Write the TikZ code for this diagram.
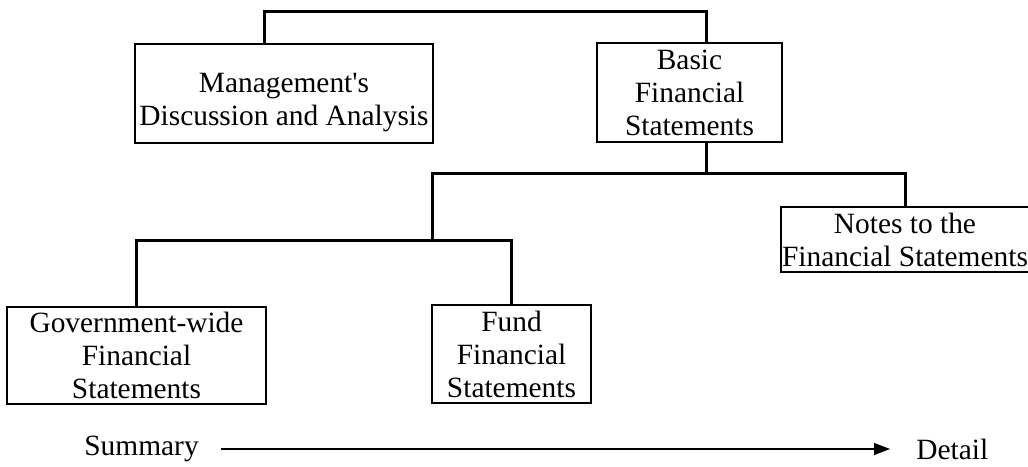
\documentclass[tikz,border=0pt]{standalone}
\usepackage{fontspec}
\setmainfont{Liberation Serif}
\usepackage{tikz}
\usetikzlibrary{positioning, arrows.meta}

\begin{document}
\begin{tikzpicture}[
            x=0.5pt, y=-0.5pt,
            % --- Styles for the nodes ---
            box/.style={
                draw, line width=1.3pt, rectangle, inner sep=0pt, align=center,
                font=\fontsize{14.7}{16.5}\selectfont
            },
            axis_label/.style={inner sep=0pt, font=\fontsize{14.7}{16.5}\selectfont},
            link/.style={line width=1.5pt}
        ]
        \useasboundingbox (0,0) rectangle (1028,466);

        % --- Top level ---
        \node[box, minimum width=149pt, minimum height=49.5pt] (mda) at (284,93.5)
            {\strut\\[-9pt]Management\textquotesingle s\\Discussion and Analysis};
        \node[box, minimum width=92.5pt, minimum height=49.5pt] (basic) at (689.5,92.5)
            {Basic\\Financial\\Statements};

        % --- Second level ---
        \node[box, minimum width=124pt, minimum height=32.5pt] (notes) at (905,239.5)
            {Notes to the\\Financial Statements};
        \node[box, minimum width=129.5pt, minimum height=48.5pt] (govt) at (136.5,355.5)
            {Government-wide\\Financial\\Statements};
        \node[box, minimum width=79.5pt, minimum height=49pt] (fund) at (511.5,354)
            {Fund\\Financial\\Statements};

        % --- Connectors ---
        \coordinate (mdatop) at (264,44);
        \coordinate (basictop) at (706,43);
        \coordinate (basicbot) at (706,142);
        \coordinate (bfsplit) at (706,173);
        \coordinate (gfsplit) at (432,240);

        \draw[link] (mdatop) -- ++(0,-33) -| (basictop);
        \draw[link] (basicbot) -- (bfsplit) -| (notes.north);
        \draw[link] (bfsplit) -| (gfsplit);
        \draw[link] (govt.north) |- (gfsplit) -| (fund.north);

        % --- Summary to detail arrow ---
        \node[axis_label, anchor=west] (summary) at (84,449) {Summary};
        \node[axis_label, anchor=west] (detail) at (916,449) {Detail};
        \draw[line width=0.6pt, -{Triangle[length=8pt, width=6pt]}]
            ([xshift=11pt]summary.east) -- ([xshift=-13pt]detail.west);

\end{tikzpicture}
\end{document}
